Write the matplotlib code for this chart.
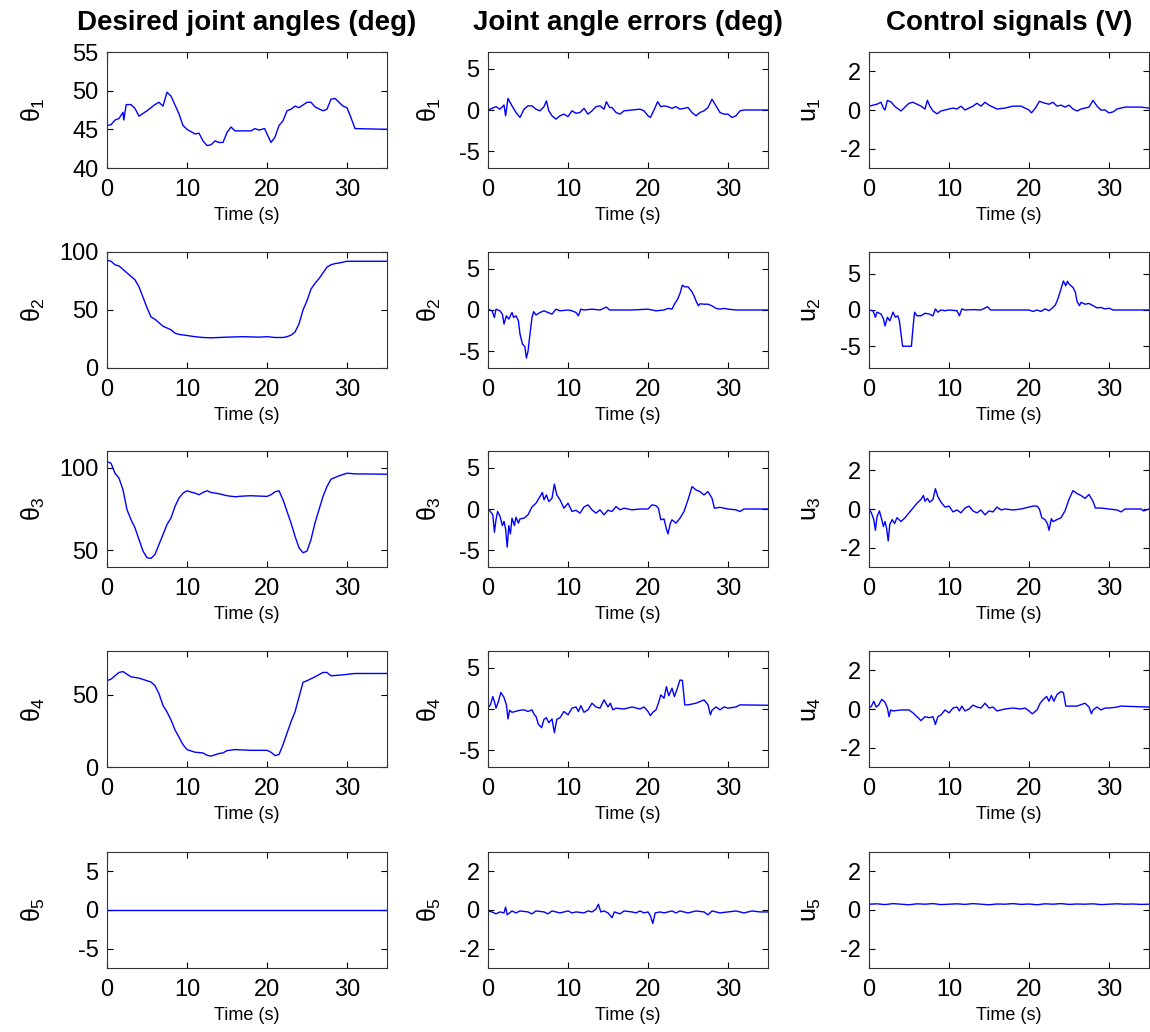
import matplotlib
matplotlib.use('Agg')
import matplotlib.pyplot as plt

plt.rcParams['font.family'] = ['Liberation Sans', 'DejaVu Sans']
plt.rcParams['mathtext.fontset'] = 'custom'
plt.rcParams['mathtext.rm'] = 'Liberation Sans'
plt.rcParams['mathtext.it'] = 'Liberation Sans'
plt.rcParams['mathtext.bf'] = 'Liberation Sans:bold'
plt.rcParams['axes.unicode_minus'] = False

# ---------------- data (time s, value) ----------------
col_titles = ['Desired joint angles (deg)', 'Joint angle errors (deg)', 'Control signals (V)']
x_label = 'Time (s)'
x_ticks = [0, 10, 20, 30]
x_lim = (0, 35)

des1 = [(0,45.5),(0.5,45.6),(1,46.2),(1.5,46.4),(2,47.2),(2.1,46.2),(2.4,48.2),(3,48.2),(3.5,47.7),(4,46.7),
        (5,47.4),(6,48.2),(6.5,48.5),(7,48.0),(7.5,49.8),(8,49.3),(9,47.0),(9.5,45.5),(10,45.0),(11,44.4),
        (11.5,44.5),(12,43.5),(12.5,42.9),(13,43.0),(13.5,43.5),(14,43.3),(14.5,43.3),(15,44.6),(15.5,45.3),(16,44.8),
        (18,44.8),(18.5,45.1),(19,44.9),(19.7,45.1),(20,44.4),(20.5,43.3),(21,44.0),(21.5,45.5),(22,46.1),(22.5,47.4),
        (23,47.6),(23.5,48.0),(24,47.8),(25,48.5),(25.5,48.5),(26,47.9),(27,47.4),(27.5,47.6),(28,48.9),(28.5,49.0),
        (29,48.5),(29.5,48.0),(30,47.8),(30.5,46.5),(31,45.1),(35,45.0)]
err1 = [(0,0),(0.5,0.2),(1,0.4),(1.5,0.1),(2,0.6),(2.2,-0.7),(2.5,1.4),(3,0.5),(3.5,-0.3),(4,-0.9),(4.5,0.1),
        (5,0.5),(5.5,0.5),(6,0.1),(6.5,-0.1),(7,0.4),(7.3,1.1),(7.6,-0.1),(8,-0.7),(8.5,-1.1),(9,-0.7),(9.5,-0.5),
        (10,-0.8),(10.5,-0.1),(11,-0.4),(11.5,-0.3),(12,0.2),(12.5,-0.5),(13,-0.1),(13.5,0.4),(14,0.5),(14.5,0.1),
        (14.8,1.0),(15.2,0.3),(15.5,0.3),(16,-0.3),(16.5,-0.5),(17,-0.1),(18,0),(19,0.1),(19.5,-0.1),(20,-0.7),
        (20.3,-0.9),(20.8,0.1),(21.2,1.0),(21.6,0.4),(22,0.5),(22.5,0.4),(23,0.2),(23.5,0.4),(24,0.1),(24.5,0.2),
        (25,0.3),(25.5,-0.3),(26,-0.7),(26.5,-0.3),(27,-0.1),(27.5,0.3),(28,1.3),(28.5,0.5),(29,-0.3),(29.5,-0.5),
        (30,-0.5),(30.5,-0.9),(31,-0.7),(31.5,-0.1),(32,0),(35,0)]
ctrl1 = [(0,0.2),(0.5,0.25),(1,0.3),(1.5,0.4),(1.8,0.1),(2,0),(2.3,0.5),(2.8,0.4),(3.2,0.2),(3.5,0.1),(4,-0.05),
         (4.5,0.15),(5,0.35),(5.5,0.4),(6,0.3),(6.5,0.2),(7,0.05),(7.3,0.5),(7.6,0.2),(8,-0.05),(8.5,-0.2),(9,-0.05),
         (9.5,0),(10,0.05),(10.5,0.1),(11,0.05),(11.5,0.2),(12,0),(12.5,0.1),(13,0.2),(13.5,0.35),(14,0.2),(14.5,0.4),
         (15,0.25),(15.5,0.15),(16,0.05),(17,0.1),(18,0.2),(19,0.2),(19.5,0.1),(20,0),(20.3,-0.15),(20.8,0.1),
         (21.3,0.45),(22,0.35),(22.5,0.3),(23,0.4),(23.5,0.2),(24,0.25),(24.5,0.15),(25,0.25),(25.5,0.05),(26,-0.05),
         (26.5,0.05),(27,0.1),(27.5,0.15),(28,0.5),(28.5,0.2),(29,0),(29.5,0),(30,-0.15),(30.5,-0.1),(31,0.05),
         (31.5,0.1),(32,0.15),(34,0.15),(35,0.1)]

des2 = [(0,93),(0.5,92),(1,89),(1.5,88),(2,85),(3,79),(3.5,76),(4,70),(4.5,61),(5,52),(5.5,44),(6,42),(7,36),
        (8,33),(8.5,30),(9,29),(10,28),(11,27),(12,26.3),(13,26),(15,26.6),(17,27),(19,26.6),(20,27),(21,26.3),
        (22,26.3),(22.5,27),(23,28.3),(23.5,31),(24,38),(24.5,50),(25,58),(25.5,68),(26,73),(26.5,77),(27,82),
        (27.5,87),(28,89),(28.5,90),(29,90.5),(30,92),(35,92)]
err2 = [(0,0.1),(0.5,-0.1),(0.8,-0.9),(1,0.1),(1.5,-0.1),(1.8,-0.5),(2,-1.7),(2.3,-0.7),(2.6,-1.1),(3,-0.3),
        (3.2,-0.9),(3.5,-0.7),(3.8,-1.3),(4,-2.9),(4.3,-4.1),(4.6,-4.4),(4.8,-5.8),(5,-5.0),(5.2,-3.3),(5.5,-0.9),
        (5.7,-0.2),(6,-0.6),(6.5,-0.3),(7,-0.1),(7.5,-0.3),(8,-0.5),(8.5,0.1),(9,-0.1),(10,0),(10.5,-0.1),(11,-0.3),
        (11.3,-0.7),(11.6,0.1),(12,0),(13,0.1),(14,0),(14.8,0.35),(15.2,0),(16,0),(18,0),(20,0.1),(21,-0.1),(22,0),
        (22.5,0.2),(23,0.1),(23.3,0.7),(23.7,1.3),(24,2.0),(24.3,3.0),(24.6,2.8),(25,2.8),(25.5,2.2),(25.8,1.6),
        (26,1.1),(26.3,0.5),(26.5,0.75),(27,0.7),(27.5,0.7),(28,0.5),(28.5,0.2),(29,0.1),(29.5,0.2),(30,0.1),
        (31,0),(35,0)]
ctrl2 = [(0,0),(0.5,-0.1),(0.8,-1.0),(1,-0.3),(1.5,-0.55),(1.8,-1.2),(2,-2.2),(2.3,-1.0),(2.6,-1.5),(3,-0.3),
         (3.3,-1.0),(3.6,-0.8),(3.8,-1.5),(4,-3.3),(4.2,-5.0),(5,-5.0),(5.3,-5.0),(5.5,-2.4),(5.7,-0.3),(6,-0.8),
         (6.5,-0.8),(7,-0.45),(7.5,-0.55),(8,-0.8),(8.3,0.15),(8.6,-0.3),(9,0),(9.5,-0.1),(10,0),(11,-0.1),
         (11.3,-0.8),(11.6,0.15),(12,0),(13,0.05),(14,0),(14.8,0.45),(15.2,0),(16,0),(18,0),(20,0),(20.5,-0.2),
         (21,0),(21.5,-0.2),(22,0.15),(22.5,-0.1),(23,0.35),(23.3,0.7),(23.6,1.5),(24,2.9),(24.3,4.0),(24.6,3.35),
         (24.8,3.95),(25,3.6),(25.5,3.1),(25.8,2.45),(26,1.2),(26.3,0.6),(26.5,1.05),(27,0.8),(27.5,0.9),(28,0.6),
         (28.5,0.3),(29,0.35),(29.5,0.15),(30,0.25),(30.5,0),(35,0)]

des3 = [(0,103.6),(0.5,102.6),(1,96.6),(1.5,93.6),(2,86.6),(2.5,74.6),(3,68.6),(3.5,63.6),(4,56.6),(4.5,49.6),
        (5,45.6),(5.5,45.2),(6,47.6),(6.5,53.6),(7,59.6),(7.5,65.6),(8,69.6),(8.5,76.6),(9,81.6),(9.5,84.6),
        (10,86),(10.5,85.2),(11,84.6),(11.5,83.6),(12,85),(12.5,86),(13,85),(14,84.2),(15,83),(16,82.4),(17,82.8),
        (18,83),(19,82.8),(20,82.6),(20.5,83.6),(21,85.4),(21.5,86),(22,80.6),(22.5,73.6),(23,66.6),(23.5,58.6),
        (24,51.6),(24.5,48.6),(25,49.6),(25.5,56.6),(26,66.6),(26.5,74.6),(27,82.6),(27.5,88.6),(28,93),(29,95),
        (30,96.6),(31,96.2),(35,96)]
err3 = [(0,0),(0.3,-0.3),(0.6,-0.7),(0.8,-2.8),(1,-1.3),(1.2,-0.3),(1.5,-0.9),(1.8,-2.0),(2,-1.5),(2.2,-2.4),
        (2.4,-4.6),(2.6,-2.0),(2.8,-3.0),(3,-1.1),(3.3,-2.0),(3.5,-1.0),(3.8,-1.7),(4,-1.2),(4.5,-1.1),(5,-0.7),
        (5.5,0.25),(6,0.7),(6.5,1.5),(6.8,2.0),(7,1.1),(7.3,1.7),(7.6,0.9),(8,1.3),(8.3,3.0),(8.6,1.7),(9,1.1),
        (9.5,0.1),(10,0.7),(10.5,-0.3),(11,-0.15),(11.5,-0.5),(12,0.25),(12.5,0.5),(13,-0.1),(13.5,-0.5),(14,-0.1),
        (14.5,-0.7),(15,-0.15),(15.5,-0.3),(16,0.3),(16.5,-0.1),(17,0.1),(18,-0.1),(19,0),(20,0),(20.5,0.5),
        (21,0.4),(21.3,0.1),(21.6,-1.3),(22,-1.2),(22.3,-2.4),(22.5,-3.0),(22.8,-1.7),(23,-1.3),(23.5,-1.7),
        (24,-1.1),(24.5,-0.3),(25,1.1),(25.5,2.7),(26,2.3),(26.5,2.1),(27,1.7),(27.5,2.1),(28,1.3),(28.3,0.1),
        (29,0.2),(30,0),(31,-0.1),(31.5,-0.3),(32,0),(35,0)]
ctrl3 = [(0,0),(0.3,-0.2),(0.6,-0.55),(0.8,-1.1),(1,-0.4),(1.3,-0.1),(1.6,-0.55),(1.8,-0.9),(2,-0.65),(2.2,-1.0),
         (2.4,-1.65),(2.6,-0.8),(2.9,-0.55),(3.2,-0.75),(3.5,-0.45),(4,-0.65),(4.5,-0.45),(5,-0.2),(5.5,0.05),
         (6,0.3),(6.5,0.5),(6.8,0.7),(7,0.4),(7.3,0.55),(7.6,0.35),(8,0.5),(8.3,1.05),(8.6,0.65),(9,0.35),(9.5,0.1),
         (10,0.15),(10.5,-0.15),(11,-0.05),(11.5,-0.2),(12,0.05),(12.5,0.15),(13,-0.1),(13.5,-0.2),(14,-0.05),
         (14.5,-0.3),(15,-0.1),(15.5,-0.15),(16,0.1),(16.5,-0.05),(17,0),(18,-0.05),(19,0),(20,0.1),(20.5,0.15),
         (21,0.15),(21.3,0),(21.6,-0.45),(22,-0.55),(22.3,-0.75),(22.5,-1.1),(22.8,-0.5),(23,-0.65),(23.5,-0.55),
         (24,-0.45),(24.5,-0.1),(25,0.5),(25.5,0.95),(26,0.8),(26.5,0.7),(27,0.55),(27.5,0.75),(28,0.4),(28.3,0.05),
         (29,0.05),(30,0),(31,-0.05),(31.5,-0.15),(32,0),(34,0),(34.3,-0.1),(35,0)]

des4 = [(0,59.5),(0.5,60.6),(1,62.9),(1.5,65.2),(2,65.8),(2.5,64),(3,62.2),(4,61.3),(5,59.5),(5.5,58.6),(6,56.1),
        (6.5,50.5),(7,42.5),(7.5,38),(8,32.4),(8.5,25.6),(9,20.6),(9.5,15.4),(10,12),(11,10.2),(12,9.7),(12.5,8.1),
        (13,7.5),(14,9.3),(14.5,9.7),(15,11.3),(16,12),(18,11.5),(20,11.5),(20.5,10.2),(21,7.9),(21.5,8.6),
        (22,15.4),(22.5,23.3),(23,31.2),(23.5,38),(24,48.2),(24.5,58.4),(25,59.5),(26,62.2),(27,65.2),(27.5,65.2),
        (28,62.9),(29,63.3),(31,64.5),(35,64.5)]
err4 = [(0,0.1),(0.3,0.5),(0.6,1.5),(0.8,0.9),(1,0.1),(1.3,0.9),(1.6,2.0),(2,1.4),(2.3,0.5),(2.5,-1.2),
        (2.7,-0.15),(3,-0.4),(4,-0.15),(4.5,-0.1),(5,-0.3),(5.5,-0.1),(5.8,-0.7),(6,-0.9),(6.3,-1.85),(6.7,-2.25),
        (7,-1.25),(7.3,-1.05),(7.6,-1.65),(8,-1.2),(8.3,-2.85),(8.6,-1.25),(9,-1.05),(9.5,-0.3),(10,-0.7),
        (10.5,0.1),(11,0.25),(11.3,-0.3),(11.6,0.4),(12,-0.4),(12.5,-0.1),(13,0.7),(13.5,0.25),(14,0.1),(14.5,1.1),
        (15,0.25),(15.3,0.7),(15.6,-0.1),(16,0.1),(17,0),(18,0.25),(19,0),(19.5,0.25),(20,-0.3),(20.3,-0.8),
        (20.6,-0.4),(21,-0.1),(21.3,0.7),(21.6,1.7),(22,1.3),(22.3,2.7),(22.6,1.6),(23,2.5),(23.3,1.5),(23.6,2.3),
        (24,3.5),(24.3,3.45),(24.6,0.5),(25,0.5),(26,0.7),(27,1.1),(27.5,0.5),(27.8,-0.7),(28,-0.15),(28.5,0.25),
        (29,-0.1),(29.5,0.25),(30,0.1),(31,0.25),(31.5,0.5),(35,0.45)]
ctrl4 = [(0,0.05),(0.3,0.15),(0.6,0.4),(0.9,0.1),(1.2,0.2),(1.6,0.5),(2,0.35),(2.3,0.05),(2.5,-0.4),(2.7,-0.05),
         (3,-0.1),(4,-0.05),(5,-0.05),(5.5,-0.2),(6,-0.4),(6.5,-0.6),(7,-0.4),(7.5,-0.45),(8,-0.4),(8.3,-0.8),
         (8.6,-0.4),(9,-0.3),(9.5,-0.05),(10,-0.2),(10.5,0.05),(11,0.1),(11.3,-0.1),(11.6,0.15),(12,-0.1),
         (12.5,0),(13,0.2),(13.5,0.1),(14,0.05),(14.5,0.3),(15,0.05),(15.5,0.1),(16,-0.1),(17,0),(18,0.05),(19,0),
         (19.5,0.05),(20,-0.1),(20.4,-0.25),(21,-0.05),(21.4,0.3),(21.8,0.5),(22.2,0.65),(22.5,0.4),(22.8,0.7),
         (23.1,0.4),(23.5,0.75),(24,0.9),(24.3,0.85),(24.6,0.15),(25,0.15),(26,0.15),(27,0.3),(27.5,0.1),
         (27.8,-0.25),(28,-0.05),(28.5,0.1),(29,-0.05),(29.5,0.05),(30,0.05),(31,0.1),(31.5,0.15),(35,0.1)]

des5 = [(0,0),(35,0)]
err5 = [(0,-0.05),(0.5,-0.1),(1,-0.2),(1.5,-0.1),(2,-0.15),(2.2,0.15),(2.4,-0.25),(3,-0.05),(3.5,-0.15),(4,-0.05),
        (5,-0.1),(5.5,-0.2),(6,-0.05),(7,-0.1),(7.5,-0.2),(8,-0.05),(9,-0.15),(10,-0.05),(10.5,-0.15),(11,-0.1),
        (12,-0.15),(12.5,-0.05),(13,-0.1),(13.5,0.05),(13.8,0.3),(14.1,-0.1),(14.5,-0.05),(15,-0.15),(15.5,-0.4),
        (15.8,-0.1),(16.5,-0.2),(17,-0.05),(18,-0.1),(18.5,-0.15),(19,-0.05),(19.5,-0.15),(20,-0.1),(20.3,-0.3),
        (20.6,-0.7),(20.9,-0.15),(21.5,-0.1),(22,-0.15),(23,-0.05),(23.5,-0.15),(24,-0.05),(25,-0.15),(26,-0.05),
        (27,-0.1),(27.5,-0.25),(28,-0.05),(29,-0.15),(30,-0.1),(31,-0.05),(32,-0.15),(33,-0.05),(34,-0.1),(35,-0.1)]
ctrl5 = [(0,0.3),(1,0.32),(2,0.28),(3,0.33),(4,0.3),(5,0.27),(6,0.32),(7,0.3),(8,0.33),(9,0.28),(10,0.3),
         (11,0.32),(12,0.29),(13,0.33),(14,0.3),(15,0.27),(16,0.31),(17,0.3),(18,0.33),(19,0.29),(20,0.31),
         (21,0.27),(22,0.32),(23,0.3),(24,0.33),(25,0.29),(26,0.31),(27,0.3),(28,0.32),(29,0.28),(30,0.3),
         (31,0.32),(32,0.3),(33,0.31),(34,0.29),(35,0.3)]

series = [[des1, err1, ctrl1],
          [des2, err2, ctrl2],
          [des3, err3, ctrl3],
          [des4, err4, ctrl4],
          [des5, err5, ctrl5]]

y_labels = [[r'$\theta_%d$' % (r + 1), r'$\theta_%d$' % (r + 1), r'$u_%d$' % (r + 1)] for r in range(5)]

y_lims = [[(40, 55), (-7, 7), (-3, 3)],
          [(0, 100), (-7, 7), (-8, 8)],
          [(40, 110), (-7, 7), (-3, 3)],
          [(0, 80), (-7, 7), (-3, 3)],
          [(-7.5, 7.5), (-3, 3), (-3, 3)]]
y_ticks = [[[40, 45, 50, 55], [-5, 0, 5], [-2, 0, 2]],
           [[0, 50, 100], [-5, 0, 5], [-5, 0, 5]],
           [[50, 100], [-5, 0, 5], [-2, 0, 2]],
           [[0, 50], [-5, 0, 5], [-2, 0, 2]],
           [[-5, 0, 5], [-2, 0, 2], [-2, 0, 2]]]

# ---------------- layout ----------------
W, H = 1150, 1032
fig = plt.figure(figsize=(W / 100, H / 100), dpi=100)
col_left_px = [107, 488, 869]
row_top_px = [52, 252, 451, 651, 852]
ax_w_px, ax_h_px = 280, 116
ylabel_x = [-0.215, -0.16, -0.165]
line_color = (0, 0, 1)

for r in range(5):
    for c in range(3):
        left = col_left_px[c] / W
        bottom = 1 - (row_top_px[r] + ax_h_px) / H
        ax = fig.add_axes([left, bottom, ax_w_px / W, ax_h_px / H])
        pts = series[r][c]
        t = [p[0] for p in pts]
        v = [p[1] for p in pts]
        ax.plot(t, v, color=line_color, lw=1.0)
        ax.set_xlim(*x_lim)
        ax.set_ylim(*y_lims[r][c])
        ax.set_xticks(x_ticks)
        ax.set_yticks(y_ticks[r][c])
        ax.tick_params(direction='in', top=True, right=True, length=4, width=0.8,
                       labelsize=17, colors='black')
        ax.tick_params(axis='x', pad=8)
        ax.tick_params(axis='y', pad=6)
        for s in ax.spines.values():
            s.set_linewidth(0.8)
            s.set_color('#333333')
        ax.set_xlabel(x_label, fontsize=13, labelpad=4)
        ax.set_ylabel(y_labels[r][c], fontsize=18)
        ax.yaxis.set_label_coords(ylabel_x[c], 0.5)
        if r == 0:
            ax.set_title(col_titles[c], fontsize=20, fontweight='bold', pad=16)

fig.savefig('out.png', dpi=100)
